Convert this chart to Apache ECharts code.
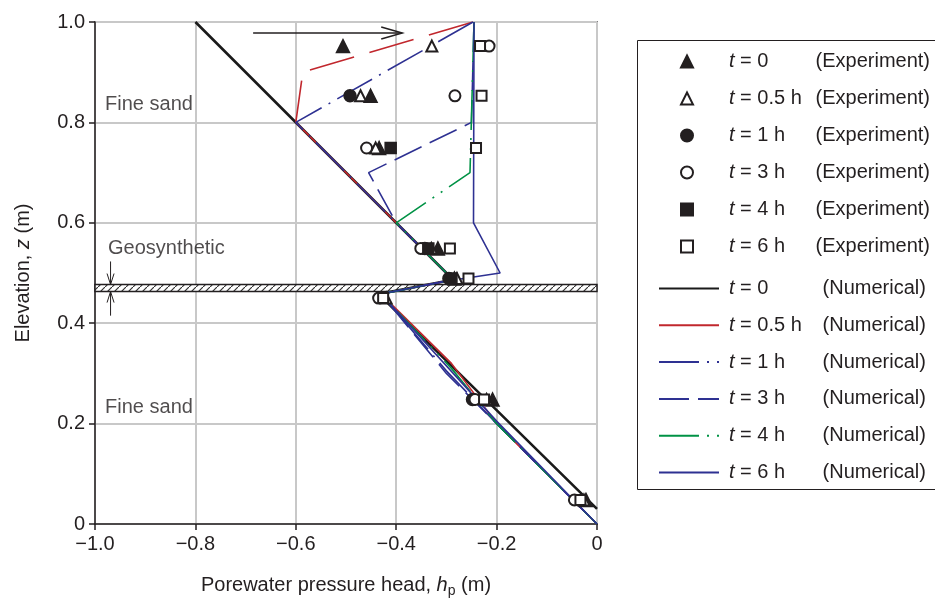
<!DOCTYPE html>
<html>
<head>
<meta charset="utf-8">
<script src="https://cdn.jsdelivr.net/npm/echarts@6/dist/echarts.min.js"></script>
<style>
html,body{margin:0;padding:0;background:#fff}
#main{width:935px;height:598px}
</style>
</head>
<body>
<div id="main"></div>
<script>
// tick labels
const xTicks = ['\u22121.0', '\u22120.8', '\u22120.6', '\u22120.4', '\u22120.2', '0'];
const yTicks = ['0', '0.2', '0.4', '0.6', '0.8', '1.0'];

// experiment points  [h_p (m), z (m)]
const exp0 = [[-0.506,0.952],[-0.451,0.853],[-0.434,0.749],[-0.317,0.549],[-0.284,0.489],[-0.208,0.248],[-0.022,0.048]];
const exp05 = [[-0.329,0.952],[-0.471,0.853],[-0.441,0.749],[-0.330,0.549],[-0.279,0.489],[-0.420,0.450],[-0.220,0.248],[-0.026,0.048]];
const exp1 = [[-0.492,0.853],[-0.343,0.549],[-0.295,0.489],[-0.248,0.248]];
const exp3 = [[-0.215,0.952],[-0.283,0.853],[-0.459,0.749],[-0.351,0.549],[-0.435,0.450],[-0.243,0.248],[-0.045,0.048]];
const exp4 = [[-0.411,0.749],[-0.336,0.549],[-0.290,0.489]];
const exp6 = [[-0.233,0.952],[-0.230,0.853],[-0.241,0.749],[-0.293,0.549],[-0.256,0.489],[-0.426,0.450],[-0.225,0.248],[-0.033,0.048]];

// numerical profiles
const num0 = [[-0.8,1.0],[-0.3,0.5],[-0.305,0.483],[-0.435,0.458],[0,0.03]];
const num05Top = [[-0.247,1.0],[-0.586,0.9],[-0.6,0.8]];
const num05 = [[-0.6,0.8],[-0.4,0.6],[-0.3,0.5],[-0.305,0.483],[-0.43,0.458],[-0.29,0.32],[-0.2,0.2],[0,0]];
const num1 = [[-0.247,1.0],[-0.6,0.8],[-0.4,0.6],[-0.3,0.5],[-0.305,0.483],[-0.43,0.458],[-0.3,0.305],[-0.2,0.2],[0,0]];
const num3 = [[-0.245,1.0],[-0.25,0.8],[-0.455,0.7],[-0.4,0.6],[-0.3,0.5],[-0.305,0.483],[-0.43,0.458],[-0.3,0.3],[0,0]];
const num4 = [[-0.245,1.0],[-0.253,0.7],[-0.4,0.6],[-0.3,0.5],[-0.305,0.483],[-0.43,0.458],[-0.29,0.31],[-0.2,0.2],[0,0]];
const num6 = [[-0.245,1.0],[-0.246,0.6],[-0.193,0.5],[-0.305,0.483],[-0.43,0.458],[-0.2,0.205],[0,0]];

// geosynthetic layer (z range) and annotations
const geoBand = [0.463, 0.477];
const notes = [
  { value: [-0.98, 0.835], name: 'Fine sand' },
  { value: [-0.974, 0.548], name: 'Geosynthetic' },
  { value: [-0.98, 0.233], name: 'Fine sand' }
];
const flowArrow = [[-0.685, 0.978], [-0.388, 0.978]];
const thickTop = [[-0.969, 0.523], [-0.969, 0.477]];
const thickBot = [[-0.969, 0.415], [-0.969, 0.463]];

const expNames = ['t = 0|(Experiment)', 't = 0.5 h|(Experiment)', 't = 1 h|(Experiment)',
  't = 3 h|(Experiment)', 't = 4 h|(Experiment)', 't = 6 h|(Experiment)'];
const numNames = ['t = 0|(Numerical)', 't = 0.5 h|(Numerical)', 't = 1 h|(Numerical)',
  't = 3 h|(Numerical)', 't = 4 h|(Numerical)', 't = 6 h|(Numerical)'];

const FONT = '"Liberation Sans", Arial, Helvetica, sans-serif';
const INK = '#231f20';
const BLUE = '#2e3192';

// hatch pattern for the geosynthetic
const hatch = document.createElement('canvas');
hatch.width = 7; hatch.height = 7;
(function () {
  const c = hatch.getContext('2d');
  c.fillStyle = '#fff';
  c.fillRect(0, 0, 7, 7);
  c.strokeStyle = '#333';
  c.lineWidth = 1.2;
  c.beginPath();
  c.moveTo(-1, 8); c.lineTo(8, -1);
  c.stroke();
})();

function expSeries(name, data, symbol, size) {
  return {
    name: name, type: 'scatter', data: data, symbol: symbol, symbolSize: size, z: 5,
    itemStyle: { color: INK, borderColor: INK, borderWidth: 1.5, opacity: 1 }
  };
}
function numSeries(name, data, color, type, width) {
  return {
    name: name, type: 'line', data: data, symbol: 'none', z: 3,
    lineStyle: { color: color, width: width || 1.6, type: type || 'solid' },
    itemStyle: { color: color }
  };
}

function legendText(name) {
  const parts = name.split('|');
  const k = parts[1].indexOf('Exp') >= 0 ? 'e' : 'n';
  return '{it|t}{' + k + '|' + parts[0].slice(1) + '}{tag|' + parts[1] + '}';
}
function legendRich(padLeft) {
  return {
    fontFamily: FONT, fontSize: 20, color: INK,
    rich: {
      it: { fontSize: 20, fontStyle: 'italic', color: INK, fontFamily: FONT, padding: [0, 0, 0, padLeft] },
      e: { fontSize: 20, color: INK, fontFamily: FONT, width: 81 },
      n: { fontSize: 20, color: INK, fontFamily: FONT, width: 88 },
      tag: { fontSize: 20, color: INK, fontFamily: FONT }
    }
  };
}

const chart = echarts.init(document.getElementById('main'));

const option = {
  animation: false,
  backgroundColor: '#fff',
  textStyle: { fontFamily: FONT },
  grid: {
    left: 95, right: 338, top: 22, bottom: 74,
    show: true, borderColor: INK, borderWidth: 1.5,
    outerBoundsMode: 'none'
  },
  xAxis: {
    type: 'value', min: -1, max: 0, interval: 0.2,
    name: '{a|Porewater pressure head, }{i|h}{s|p}{a| (m)}',
    nameLocation: 'middle', nameGap: 48,
    nameTextStyle: {
      rich: {
        a: { fontSize: 20, color: INK, fontFamily: FONT, lineHeight: 26, verticalAlign: 'middle' },
        i: { fontSize: 20, color: INK, fontFamily: FONT, fontStyle: 'italic', lineHeight: 26, verticalAlign: 'middle' },
        s: { fontSize: 14, color: INK, fontFamily: FONT, lineHeight: 12, verticalAlign: 'bottom' }
      }
    },
    axisLine: { show: true, onZero: false, lineStyle: { color: INK, width: 1.5 } },
    axisTick: { show: true, length: 6, lineStyle: { color: INK, width: 1.5 } },
    axisLabel: {
      fontSize: 20, color: INK, fontFamily: FONT, margin: 10,
      formatter: function (v) { return xTicks[Math.round((v + 1) / 0.2)]; }
    },
    splitLine: { show: true, lineStyle: { color: '#c8c8c8', width: 2 } }
  },
  yAxis: {
    type: 'value', min: 0, max: 1, interval: 0.2,
    name: '{a|Elevation, }{i|z}{a| (m)}',
    nameLocation: 'middle', nameGap: 62, nameRotate: 90,
    nameTextStyle: {
      rich: {
        a: { fontSize: 20, color: INK, fontFamily: FONT },
        i: { fontSize: 20, color: INK, fontFamily: FONT, fontStyle: 'italic' }
      }
    },
    axisLine: { show: true, onZero: false, lineStyle: { color: INK, width: 1.5 } },
    axisTick: { show: true, length: 6, lineStyle: { color: INK, width: 1.5 } },
    axisLabel: {
      fontSize: 20, color: INK, fontFamily: FONT, margin: 10,
      formatter: function (v) { return yTicks[Math.round(v / 0.2)]; }
    },
    splitLine: { show: true, lineStyle: { color: '#c8c8c8', width: 2 } }
  },
  legend: [
    {
      orient: 'vertical', left: 680, top: 51.5, padding: 0,
      itemWidth: 12, itemHeight: 12, itemGap: 17,
      data: expNames, formatter: legendText, textStyle: legendRich(31)
    },
    {
      orient: 'vertical', left: 658, top: 278.5, padding: 0,
      itemWidth: 60, itemHeight: 12, itemGap: 16.8,
      itemStyle: { opacity: 0 },
      data: numNames, formatter: legendText, textStyle: legendRich(5)
    }
  ],
  series: [
    {
      type: 'line', data: [], z: 1, silent: true,
      markArea: {
        silent: true,
        itemStyle: { color: { image: hatch, repeat: 'repeat' }, borderColor: INK, borderWidth: 1.5 },
        data: [[{ coord: [-1, geoBand[0]] }, { coord: [0, geoBand[1]] }]]
      }
    },
    numSeries(numNames[0], num0, '#1a1a1a', 'solid', 2.6),
    numSeries(undefined, num05Top, '#c1272d', [46, 16], 1.6),
    numSeries(numNames[1], num05, '#c1272d', 'solid', 1.6),
    numSeries(numNames[2], num1, BLUE, [40, 8, 2, 8], 1.6),
    numSeries(numNames[3], num3, BLUE, [30, 9], 1.6),
    numSeries(numNames[4], num4, '#009245', [40, 8, 2, 8, 2, 8], 1.6),
    numSeries(numNames[5], num6, BLUE, 'solid', 1.6),
    expSeries(expNames[0], exp0, 'triangle', 13),
    expSeries(expNames[1], exp05, 'emptyTriangle', 11),
    expSeries(expNames[2], exp1, 'circle', 12),
    expSeries(expNames[3], exp3, 'emptyCircle', 11),
    expSeries(expNames[4], exp4, 'rect', 11),
    expSeries(expNames[5], exp6, 'emptyRect', 10),
    {
      type: 'scatter', data: notes, symbolSize: 0, silent: true, z: 6,
      label: {
        show: true, position: 'right', distance: 0,
        formatter: '{b}', fontSize: 20, color: INK, fontFamily: FONT
      }
    }
  ]
};

chart.setOption(option);

// legend frame and arrows (arrows placed through the chart's coordinate conversion)
function px(p) { return chart.convertToPixel({ gridIndex: 0 }, p); }
const arrowStyle = { stroke: INK, lineWidth: 1.5, fill: null };
const fa = px(flowArrow[0]), fb = px(flowArrow[1]);
const t0 = px(thickTop[0]), t1 = px(thickTop[1]);
const b0 = px(thickBot[0]), b1 = px(thickBot[1]);
chart.setOption({
  graphic: [
    { type: 'rect', z: 0, shape: { x: 637.5, y: 40.5, width: 320, height: 449 }, style: { stroke: INK, lineWidth: 1, fill: null } },
    { type: 'polyline', z: 10, shape: { points: [fa, fb] }, style: arrowStyle },
    { type: 'polyline', z: 10, shape: { points: [[fb[0] - 21, fb[1] - 6], fb, [fb[0] - 21, fb[1] + 6]] }, style: arrowStyle },
    { type: 'polyline', z: 10, shape: { points: [t0, t1] }, style: { stroke: INK, lineWidth: 1 } },
    { type: 'polyline', z: 10, shape: { points: [[t1[0] - 3.5, t1[1] - 11], t1, [t1[0] + 3.5, t1[1] - 11]] }, style: { stroke: INK, lineWidth: 1, fill: null } },
    { type: 'polyline', z: 10, shape: { points: [b0, b1] }, style: { stroke: INK, lineWidth: 1 } },
    { type: 'polyline', z: 10, shape: { points: [[b1[0] - 3.5, b1[1] + 11], b1, [b1[0] + 3.5, b1[1] + 11]] }, style: { stroke: INK, lineWidth: 1, fill: null } }
  ]
});
</script>
</body>
</html>
